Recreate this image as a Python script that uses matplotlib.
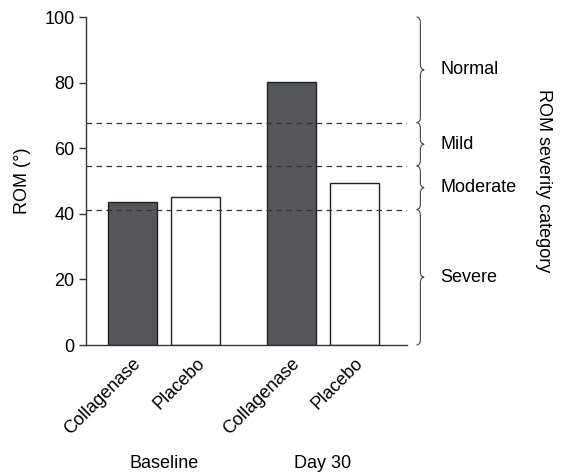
import matplotlib.pyplot as plt
import matplotlib.transforms as mtransforms
from matplotlib.path import Path
from matplotlib.patches import PathPatch

plt.rcParams['font.family'] = ['Liberation Sans', 'DejaVu Sans']
plt.rcParams['font.size'] = 13

# data
bar_labels = ['Collagenase', 'Placebo', 'Collagenase', 'Placebo']
bar_pos = [0, 1, 2.5, 3.5]
rom_values = [43.7, 45.2, 80.3, 49.4]
bar_colors = ['#55565a', 'white', '#55565a', 'white']
groups = ['Baseline', 'Day 30']
group_pos = [0.5, 3.0]
cut_offs = [41.3, 54.6, 67.8]
categories = ['Severe', 'Moderate', 'Mild', 'Normal']

fig = plt.figure(figsize=(5.61, 4.73), dpi=100)
ax = fig.add_axes([0.153, 0.2706, 0.5725, 0.6934])

ax.bar(bar_pos, rom_values, width=0.77, color=bar_colors,
       edgecolor='#222222', linewidth=1.0, zorder=2)

for c in cut_offs:
    ax.axhline(c, color='#333333', lw=0.9, ls=(0, (4.5, 3.5)), zorder=3)

ax.set_xlim(-0.73, 4.32)
ax.set_ylim(0, 100)
ax.set_yticks([0, 20, 40, 60, 80, 100])
ax.set_xticks(bar_pos)
ax.set_xticklabels(bar_labels, rotation=45, ha='right', rotation_mode='anchor')
ax.tick_params(axis='x', length=0, pad=7)
ax.tick_params(axis='y', length=5, width=1, color='#333333', pad=3)
for s in ['top', 'right']:
    ax.spines[s].set_visible(False)
for s in ['left', 'bottom']:
    ax.spines[s].set_color('#333333')
    ax.spines[s].set_linewidth(1.0)
ax.set_ylabel('ROM (°)', labelpad=10)

trans = mtransforms.blended_transform_factory(ax.transData, ax.transAxes)
for g, gx in zip(groups, group_pos):
    ax.text(gx, -0.36, g, transform=trans, ha='center', va='center')


def brace(y0, y1, xl=4.47, xs=4.53, xt=4.59, r=1.6):
    ym = (y0 + y1) / 2
    verts = [(xl, y1), (xs, y1), (xs, y1 - r), (xs, y1 - r),
             (xs, ym + r),
             (xs, ym), (xt, ym), (xt, ym),
             (xs, ym), (xs, ym - r), (xs, ym - r),
             (xs, y0 + r),
             (xs, y0), (xl, y0), (xl, y0)]
    codes = [Path.MOVETO, Path.CURVE4, Path.CURVE4, Path.CURVE4,
             Path.LINETO,
             Path.CURVE4, Path.CURVE4, Path.CURVE4,
             Path.CURVE4, Path.CURVE4, Path.CURVE4,
             Path.LINETO,
             Path.CURVE4, Path.CURVE4, Path.CURVE4]
    p = PathPatch(Path(verts, codes), fill=False, lw=0.8,
                  edgecolor='#444444', clip_on=False)
    ax.add_patch(p)


edges = [0] + cut_offs + [100]
for i, cat in enumerate(categories):
    y0, y1 = edges[i], edges[i + 1]
    brace(y0, y1)
    ax.text(4.84, (y0 + y1) / 2, cat, ha='left', va='center', clip_on=False)

ax.text(6.46, 50, 'ROM severity category', rotation=-90,
        ha='center', va='center', clip_on=False)

fig.savefig('out.png', dpi=100)
